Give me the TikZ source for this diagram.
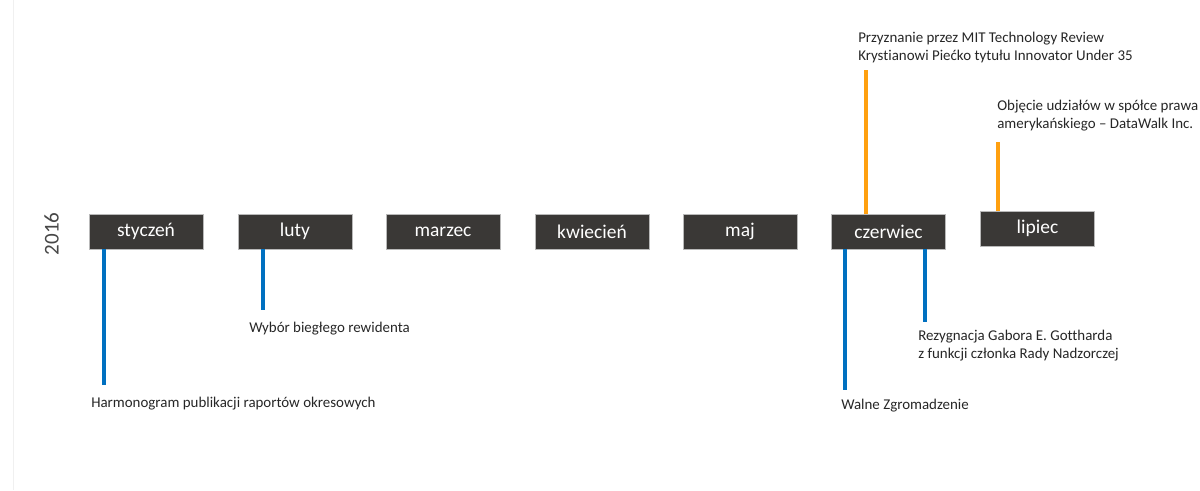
\documentclass[tikz,border=0pt]{standalone}
\usepackage{fontspec}
\setmainfont{Carlito}[Ligatures=NoCommon]
\usepackage{tikz}
\usetikzlibrary{positioning}

\definecolor{kasten}{RGB}{58,56,54}
\definecolor{blau}{RGB}{0,112,192}
\definecolor{orng}{RGB}{255,160,16}
\definecolor{schrift}{RGB}{38,38,38}

\tikzset{
monat/.style={fill=kasten,draw=gray!55,line width=0.4pt,text=white,minimum width=85.5pt,minimum height=26.25pt,inner sep=0pt,font=\fontsize{14.6}{17}\selectfont},
ereignis/.style={text=schrift,inner sep=0pt,align=left,anchor=west,font=\fontsize{11.2}{13.5}\selectfont},
blaulinie/.style={blau,line width=3pt},
orangelinie/.style={orng,line width=3pt},
}

\begin{document}
\begin{tikzpicture}[%
x={(0.75pt,0pt)},
y={(0pt,-0.75pt)},
]
\useasboundingbox (0,0) rectangle (1200,490);
\draw[gray!12,line width=0.75pt] (13,0) -- (13,490);

%Jahr
\node[rotate=90,text=schrift!85,inner sep=0pt,font=\fontsize{15.8}{18}\selectfont] (jahr) at (51.5,234) {2016};

%Endpunkte
\coordinate (e1) at (104,385);
\coordinate (e2) at (263,310);
\coordinate (e3) at (845,390);
\coordinate (e4) at (925,322);
\coordinate (e5) at (866,70);
\coordinate (e6) at (998,142);

%Monate
\node[monat](sty) at (146,231.5){styczeń};
\node[monat](lut) at (295,231.5){luty};
\node[monat](mar) at (443,231.5){marzec};
\node[monat](kwi) at (592,231.5){kwiecień};
\node[monat](maj) at (740,231.5){maj};
\node[monat](cze) at (888.5,231.5){czerwiec};
\node[monat](lip) at (1037.5,228.5){lipiec};

%Linien
\draw[blaulinie] (e1 |- sty.south) -- (e1);
\draw[blaulinie] (e2 |- lut.south) -- (e2);
\draw[blaulinie] (e3 |- cze.south) -- (e3);
\draw[blaulinie] (e4 |- cze.south) -- (e4);
\draw[orangelinie] (e5 |- cze.north) -- (e5);
\draw[orangelinie] (e6 |- lip.north) -- (e6);

%Texte
\node[ereignis](t1) at (91,404){Harmonogram publikacji raportów okresowych};
\node[ereignis](t2) at (249,329){Wybór biegłego rewidenta};
\node[ereignis](t3) at (841,406){Walne Zgromadzenie};
\node[ereignis](t4) at (918,346){Rezygnacja Gabora E. Gottharda\\z funkcji członka Rady Nadzorczej};
\node[ereignis](t5) at (858,48){Przyznanie przez MIT Technology Review\\Krystianowi Piećko tytułu Innovator Under 35};
\node[ereignis](t6) at (997,116){Objęcie udziałów w spółce prawa\\amerykańskiego -- DataWalk Inc.};

\end{tikzpicture}
\end{document}
